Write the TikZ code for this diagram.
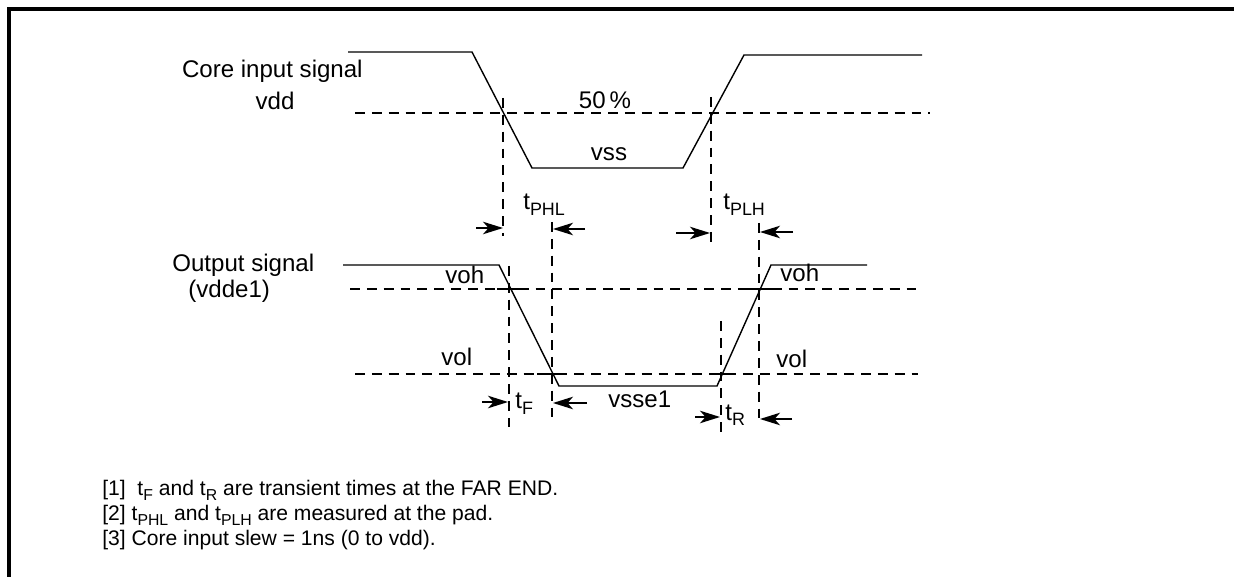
\documentclass[tikz,border=0pt]{standalone}
\usepackage{fontspec}
\setmainfont{Liberation Sans}
\usetikzlibrary{arrows.meta}

\newcommand\lsub[1]{\raisebox{-0.45ex}{\subsize #1}}

\tikzset{
	sig/.style={line width=0.8pt},
	guide/.style={line width=0.8pt,dash pattern=on 5.6pt off 4pt},
	dimarrow/.style={line width=0.9pt,-{Stealth[length=4mm,width=2.5mm,inset=1.1mm]}},
	lbl/.style={inner sep=0pt,font={\fontsize{13.7}{16}\selectfont\def\subsize{\fontsize{10.2}{12}\selectfont}}},
	note/.style={inner sep=0pt,anchor=base west,font={\fontsize{12}{14}\selectfont\def\subsize{\fontsize{9}{10}\selectfont}}}
}

\begin{document}
\begin{tikzpicture}[x=0.02cm,y=-0.02cm]
	\useasboundingbox (0,0) rectangle (1234,577);
	% frame
	\draw[line width=1.8pt] (9,577) -- (9,9) -- (1234,9);

	% core input signal
	\draw[sig] (348,52) -- (472,52) -- (532,168) -- (683,168) -- (744,55) -- (922,55);
	% output signal
	\draw[sig] (343,265) -- (499,265) -- (559,386) -- (717,386) -- (771,265) -- (867,265);

	% level lines
	\foreach \xa/\xb/\y in {355/930/113, 350/917/289, 355/918/374}
		\draw[guide] (\xa,\y) -- (\xb,\y);
	% time lines
	\foreach \x/\ya/\yb in {503/98/236, 552/222/424, 711/97/246, 759/223/425, 509/266/427, 721/321/432}
		\draw[guide] (\x,\ya) -- (\x,\yb);
	% crossing marks
	\foreach \xa/\xb/\y in {497/527/289, 537/563/374, 713/731/374, 747/773/289}
		\draw[sig] (\xa,\y) -- (\xb,\y);

	% timing arrows
	\foreach \xa/\xb/\y in {476/503/228, 585/553/229, 676/710/233, 793/760/232,
			482/508/402, 587/553/403, 695/720/417, 792/760/419}
		\draw[dimarrow] (\xa,\y) -- (\xb,\y);

	% labels
	\node[lbl,anchor=base east] (corein) at (363,78) {Core input signal};
	\node[lbl,anchor=base] (vdd) at (275,110) {vdd};
	\node[lbl,anchor=base] (half) at (605,109) {50\,\%};
	\node[lbl,anchor=base] (vss) at (609,161) {vss};
	\node[lbl,anchor=base west] (tphl) at (523,210) {t\lsub{PHL}};
	\node[lbl,anchor=base west] (tplh) at (723,210) {t\lsub{PLH}};
	\node[lbl,anchor=base west] (outsig) at (172,272) {Output signal};
	\node[lbl,anchor=base west] (vdde) at (188,298) {(vdde1)};
	\node[lbl,anchor=base west] (vohl) at (445,284) {voh};
	\node[lbl,anchor=base west] (voll) at (441,366) {vol};
	\node[lbl,anchor=base west] (vohr) at (780,282) {voh};
	\node[lbl,anchor=base west] (volr) at (776,368) {vol};
	\node[lbl,anchor=base west] (tf) at (515,409) {t\lsub{F}};
	\node[lbl,anchor=base west] (vsse) at (608,408) {vsse1};
	\node[lbl,anchor=base west] (tr) at (725,420) {t\lsub{R}};

	% notes
	\node[note] (note1) at (102,495) {[1]~ t\lsub{F} and t\lsub{R} are transient times at the FAR END.};
	\node[note] (note2) at (102,520) {[2] t\lsub{PHL} and t\lsub{PLH} are measured at the pad.};
	\node[note] (note3) at (102,545) {[3] Core input slew = 1ns (0 to vdd).};
\end{tikzpicture}
\end{document}
